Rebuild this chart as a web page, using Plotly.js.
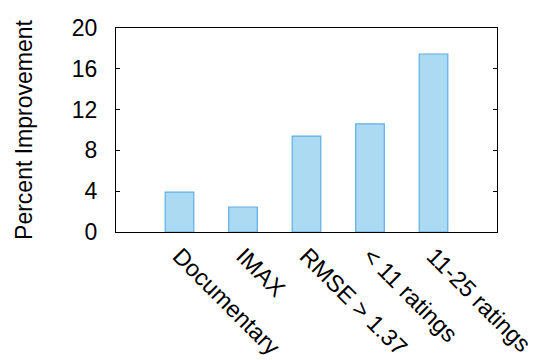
<!DOCTYPE html>
<html>
<head>
<meta charset="utf-8">
<script src="https://cdn.plot.ly/plotly-3.0.1.min.js"></script>
<style>html,body{margin:0;padding:0;background:#fff;}#chart{width:540px;height:360px;}</style>
</head>
<body>
<div id="chart"></div>
<script>
const categories = ["Documentary", "IMAX", "RMSE > 1.37", "< 11 ratings", "11-25 ratings"];
const improvement = [3.9, 2.45, 9.4, 10.6, 17.45];
const yTicks = [0, 4, 8, 12, 16, 20];

const trace = {
  type: 'bar',
  x: categories.map((c, i) => i),
  y: improvement,
  width: 0.45,
  marker: {color: 'rgb(173,218,243)', line: {color: 'rgb(94,174,228)', width: 1.2}},
  hoverinfo: 'skip'
};

const font = {family: 'Liberation Sans, Arial, Helvetica, sans-serif', size: 23, color: '#000'};
const xFont = {family: 'Liberation Sans, Arial, Helvetica, sans-serif', size: 23.5, color: '#000'};

const layout = {
  width: 540, height: 360,
  margin: {l: 116, r: 43, t: 28, b: 128},
  paper_bgcolor: '#fff', plot_bgcolor: '#fff',
  showlegend: false,
  font: font,
  xaxis: {
    range: [-1, 5],
    tickmode: 'array',
    tickvals: categories.map((c, i) => i),
    ticktext: categories,
    tickangle: 45,
    ticks: '',
    showgrid: false, zeroline: false,
    showline: true, linecolor: '#000', linewidth: 1, mirror: true,
    tickfont: xFont,
    ticklabeloverflow: 'allow',
    ticklabelstandoff: 0,
    automargin: false
  },
  yaxis: {
    range: [0, 20],
    tickmode: 'array',
    tickvals: yTicks,
    ticktext: yTicks.map(String),
    ticks: 'inside', ticklen: 4, tickcolor: '#000', tickwidth: 1,
    showgrid: false, zeroline: false,
    showline: true, linecolor: '#000', linewidth: 1, mirror: 'ticks',
    tickfont: font,
    ticklabelstandoff: 13,
    title: {text: 'Percent Improvement', font: font, standoff: 32},
    automargin: false
  }
};

Plotly.newPlot('chart', [trace], layout, {staticPlot: true, displayModeBar: false});
</script>
</body>
</html>
